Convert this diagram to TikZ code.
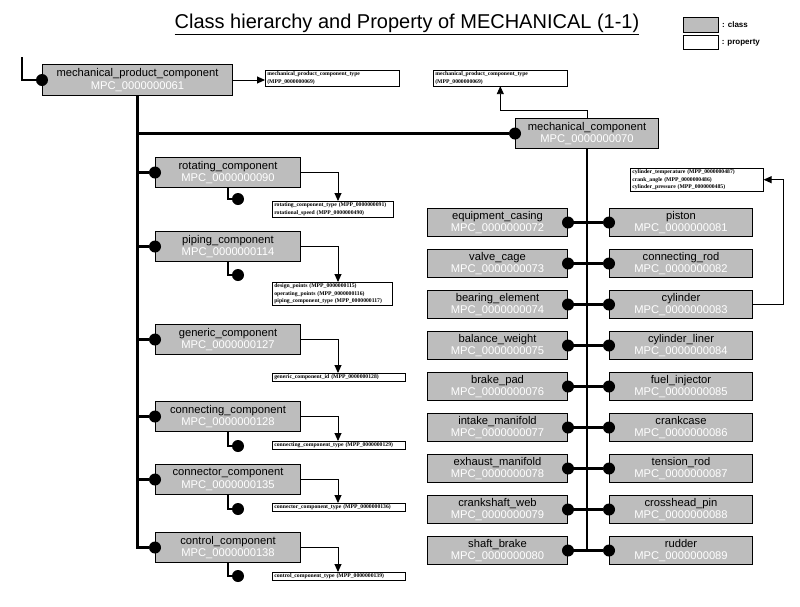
\documentclass[tikz,border=0pt]{standalone}
\usepackage{fontspec}
\setmainfont{Liberation Sans}
\newfontfamily\propserif{Liberation Serif}
\usetikzlibrary{arrows.meta}
\newcommand{\ctext}[2]{#1\\[-0.5pt]{\color{white}#2}}
\tikzset{
  cls/.style={draw=black, line width=1pt, fill=black!26, minimum height=30pt, inner sep=0pt,
    align=center, anchor=north west, font=\fontsize{11.2}{13}\selectfont},
  propbox/.style={draw=black, line width=0.6pt, fill=white, anchor=north west, align=left,
    inner xsep=2pt, inner ysep=1.6pt, font=\propserif\bfseries\fontsize{5.7}{7.2}\selectfont},
  dot/.style={circle, fill=black, minimum size=12pt, inner sep=0pt},
  hier/.style={line width=2.2pt, black},
  proparrow/.style={line width=0.9pt, -{Triangle[length=8pt,width=7pt]}},
  legtext/.style={anchor=west, inner sep=3pt, font=\fontsize{8}{9}\selectfont\bfseries},
}
\begin{document}
\begin{tikzpicture}[x=1pt,y=-1pt]
\fill[white] (0,0) rectangle (800,606);
\useasboundingbox (0,0) rectangle (800,606);

% title and legend
\node[font=\fontsize{20}{24}\selectfont, inner sep=0pt] (title) at (407,24)
  {\underline{Class hierarchy and Property of MECHANICAL (1-1)}};
\node[cls, minimum width=35pt, minimum height=15pt] (lgc) at (683,17) {};
\node[propbox, minimum width=35pt, minimum height=14pt] (lgp) at (683,35) {};
\node[legtext] (lgct) at (lgc.east) {: class};
\node[legtext] (lgpt) at (lgp.east) {: property};

% root
\node[cls, minimum width=190pt, minimum height=31pt] (mpc) at (42,64)
  {\ctext{mechanical\_product\_component}{MPC\_0000000061}};
\node[dot] (mpcdot) at (mpc.west) {};
\coordinate (start) at (22,57);
\draw[hier] (start) |- (mpcdot);
\node[propbox, text width=130pt] (mppt) at (265,70)
  {mechanical\_product\_component\_type\\(MPP\_0000000069)};
\draw[proparrow] (mpc.east) -- (mpc.east -| mppt.west);

% mechanical component
\node[cls, minimum width=143pt] (mc) at (515,118)
  {\ctext{mechanical\_component}{MPC\_0000000070}};
\node[dot] (mcdot) at (mc.west) {};
\node[propbox, text width=130pt] (mcp) at (433,70)
  {mechanical\_product\_component\_type\\(MPP\_0000000069)};
\draw[proparrow] (mc.north) -- ++(0,-8) -| (mcp.south);

% left children
\coordinate (ax) at (338,0);
\foreach \nm/\tp/\txt/\code in {
  rot/157/rotating\_component/MPC\_0000000090,
  pip/231/piping\_component/MPC\_0000000114,
  gen/324/generic\_component/MPC\_0000000127,
  conn/401/connecting\_component/MPC\_0000000128,
  connr/464/connector\_component/MPC\_0000000135,
  ctrl/532/control\_component/MPC\_0000000138}{
  \node[cls, minimum width=145pt] (\nm) at (155,\tp) {\ctext{\txt}{\code}};
  \node[dot] (\nm dot) at (\nm.west) {};
}
% stubs
\node[dot] (rotstub) at (238,199) {};
\node[dot] (pipstub) at (238,275) {};
\node[dot] (connstub) at (238,446) {};
\node[dot] (connrstub) at (238,509) {};
\node[dot] (ctrlstub) at (238,576) {};
\foreach \nm in {rot,pip,conn,connr,ctrl}{
  \draw[hier] (\nm.south) |- (\nm stub);
}

% property boxes of left children
\node[propbox, text width=117pt] (rotp) at (272,201)
  {rotating\_component\_type (MPP\_0000000091)\\rotational\_speed (MPP\_0000000490)};
\node[propbox, text width=116pt] (pipp) at (272,282)
  {design\_points (MPP\_0000000115)\\operating\_points (MPP\_0000000116)\\piping\_component\_type (MPP\_0000000117)};
\node[propbox, text width=129pt] (genp) at (272,373)
  {generic\_component\_id (MPP\_0000000128)};
\node[propbox, text width=129pt] (connp) at (272,441)
  {connecting\_component\_type (MPP\_0000000129)};
\node[propbox, text width=129pt] (connrp) at (272,503)
  {connector\_component\_type (MPP\_0000000136)};
\node[propbox, text width=129pt] (ctrlp) at (272,572)
  {control\_component\_type (MPP\_0000000139)};
\foreach \nm in {rot,pip,gen,conn,connr,ctrl}{
  \draw[proparrow] (\nm.east) -| (ax |- \nm p.north);
}

% main trunk
\draw[hier] (mpc.south) |- (ctrldot);
\foreach \nm in {rot,pip,gen,conn,connr}{
  \draw[hier] (mpc.south |- \nm dot) -- (\nm dot);
}
\draw[hier] (mpc.south |- mcdot) -- (mcdot);

% right columns
\foreach \i/\ln/\lc/\rn/\rc in {
  1/equipment\_casing/72/piston/81,
  2/valve\_cage/73/connecting\_rod/82,
  3/bearing\_element/74/cylinder/83,
  4/balance\_weight/75/cylinder\_liner/84,
  5/brake\_pad/76/fuel\_injector/85,
  6/intake\_manifold/77/crankcase/86,
  7/exhaust\_manifold/78/tension\_rod/87,
  8/crankshaft\_web/79/crosshead\_pin/88,
  9/shaft\_brake/80/rudder/89}{
  \pgfmathsetmacro{\tp}{208+41*(\i-1)}
  \node[cls, minimum width=140pt, minimum height=28pt] (L\i) at (427,\tp)
    {\ctext{\ln}{MPC\_00000000\lc}};
  \node[cls, minimum width=143pt, minimum height=28pt] (R\i) at (609,\tp)
    {\ctext{\rn}{MPC\_00000000\rc}};
  \node[dot] (Ld\i) at (L\i.east) {};
  \node[dot] (Rd\i) at (R\i.west) {};
  \draw[hier] (Ld\i) -- (Rd\i);
}
\draw[hier] (mc.south) -- (mc.south |- Ld9);

% cylinder properties
\node[propbox, text width=129pt] (cylp) at (630,168)
  {cylinder\_temperature (MPP\_0000000487)\\crank\_angle (MPP\_0000000486)\\cylinder\_pressure (MPP\_0000000485)};
\draw[proparrow] (R3.east) -- ++(30,0) |- (cylp.east);
\end{tikzpicture}
\end{document}
